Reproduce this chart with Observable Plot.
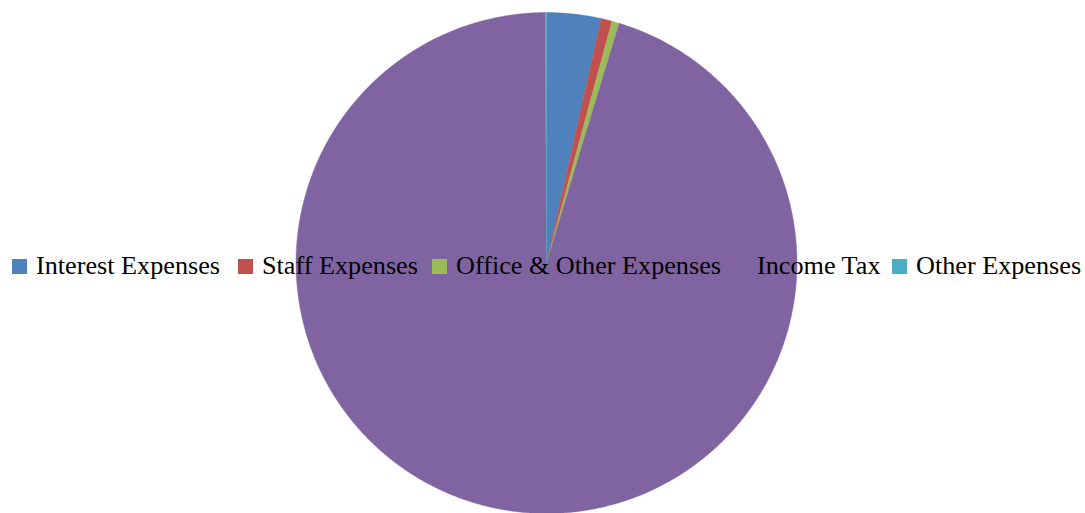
<!DOCTYPE html>
<html>
<head>
<meta charset="utf-8">
<script src="https://cdn.jsdelivr.net/npm/d3@7"></script>
<script src="https://cdn.jsdelivr.net/npm/@observablehq/plot@0.6"></script>
<style>
  html, body { margin: 0; padding: 0; background: #fff; }
  #wrap { position: relative; width: 1085px; height: 513px; overflow: hidden; }
  .item { position: absolute; top: 251px; height: 30px; display: flex; align-items: center;
    font-family: "Liberation Serif", "Times New Roman", serif; font-size: 26.2px; color: #000; white-space: nowrap; }
  .sw { width: 15px; height: 15px; margin-right: 9px; flex: none; }
</style>
</head>
<body>
<div id="wrap"></div>
<script>
const categories = ["Interest Expenses", "Staff Expenses", "Office & Other Expenses", "Income Tax", "Other Expenses"];
const values = [3.51, 0.70, 0.48, 95.24, 0.07];
const colors = ["#4F81BD", "#C0504D", "#9BBB59", "#8064A2", "#4BACC6"];

const rows = categories.map((c, i) => ({category: c, value: values[i]}));
const arcs = d3.pie().sort(null).value(d => d.value)(rows);
const features = arcs.map(a => {
  const steps = Math.max(2, Math.ceil((a.endAngle - a.startAngle) / (Math.PI / 720)));
  const ring = [[0, 0]];
  for (let k = 0; k <= steps; k++) {
    const t = a.startAngle + (a.endAngle - a.startAngle) * k / steps;
    ring.push([Math.sin(t), Math.cos(t)]);
  }
  ring.push([0, 0]);
  return {type: "Feature", properties: {category: a.data.category}, geometry: {type: "Polygon", coordinates: [ring]}};
});

const chart = Plot.plot({
  width: 1085,
  height: 513,
  marginTop: 12,
  marginBottom: 0,
  marginLeft: 295,
  marginRight: 288,
  projection: {type: "reflect-y", inset: 0, domain: {type: "MultiPoint", coordinates: [[-1, -1], [1, 1]]}},
  color: {domain: categories, range: colors},
  marks: [
    Plot.geo(features, {fill: d => d.properties.category, stroke: d => d.properties.category, strokeWidth: 0.4})
  ]
});
const wrap = document.getElementById("wrap");
wrap.appendChild(chart);

// legend layout (left edge of each swatch, in pixels)
const legendLeft = [12, 238, 432, 733, 892];
categories.forEach((c, i) => {
  const it = document.createElement("div");
  it.className = "item";
  it.style.left = legendLeft[i] + "px";
  const sw = document.createElement("div");
  sw.className = "sw";
  sw.style.background = colors[i];
  const tx = document.createElement("span");
  tx.textContent = c;
  it.appendChild(sw);
  it.appendChild(tx);
  wrap.appendChild(it);
});
</script>
</body>
</html>
